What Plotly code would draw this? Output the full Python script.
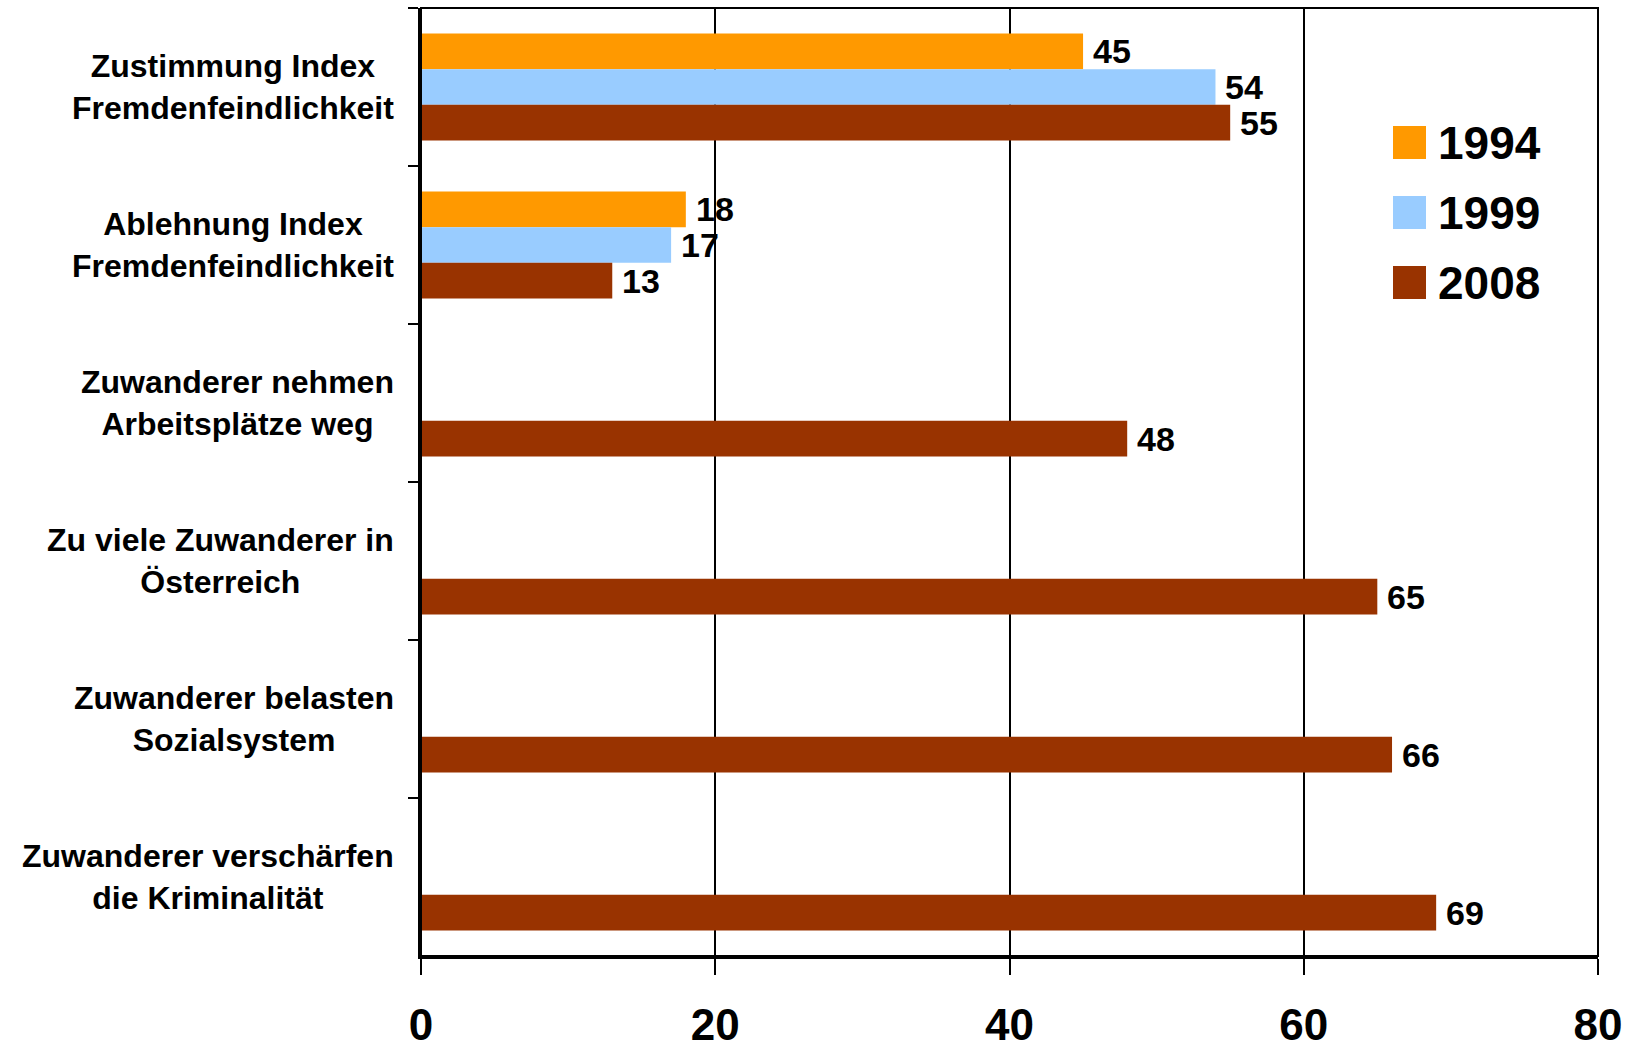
import plotly.graph_objects as go

# Survey items (top to bottom) and agreement shares in percent per survey year
categories = [
    "Zustimmung Index<br>Fremdenfeindlichkeit",
    "Ablehnung Index<br>Fremdenfeindlichkeit",
    "Zuwanderer nehmen<br>Arbeitsplätze weg",
    "Zu viele Zuwanderer in<br>Österreich",
    "Zuwanderer belasten<br>Sozialsystem",
    "Zuwanderer verschärfen<br>die Kriminalität",
]
years = ["1994", "1999", "2008"]
values_1994 = [45, 18, None, None, None, None]
values_1999 = [54, 17, None, None, None, None]
values_2008 = [55, 13, 48, 65, 66, 69]
x_ticks = [0, 20, 40, 60, 80]

series = [values_1994, values_1999, values_2008]
colors = ["#FF9900", "#99CCFF", "#993300"]

FONT = "Liberation Sans, Arial, Helvetica, sans-serif"
W, H = 1636, 1048
M_L, M_R, M_T, M_B = 421, 38, 8, 92
plot_h = H - M_T - M_B
BARGAP = 0.324
band_px = plot_h / len(categories)
bar_px = band_px * (1 - BARGAP) / len(series)

fig = go.Figure()
for name, vals, col in zip(years, series, colors):
    fig.add_trace(go.Bar(
        x=vals, y=categories, orientation="h", name=name,
        marker=dict(color=col, line=dict(width=0)),
        showlegend=False, hoverinfo="x+name",
    ))

annotations = []
# Category labels: right-aligned block, centred lines
for cat in categories:
    annotations.append(dict(
        x=0, xref="paper", y=cat, yref="y", text=cat,
        xanchor="right", yanchor="middle", align="center",
        xshift=-25, showarrow=False,
        font=dict(family=FONT, size=32, color="black", weight="bold"),
    ))

# Value labels at the end of each bar
for i, vals in enumerate(series):
    shift = (1 - i) * bar_px
    for cat, v in zip(categories, vals):
        if v is None:
            continue
        annotations.append(dict(
            x=v, xref="x", y=cat, yref="y", text=str(v),
            xanchor="left", yanchor="middle", xshift=8, yshift=shift,
            showarrow=False,
            font=dict(family=FONT, size=34, color="black", weight="bold"),
        ))

# Legend drawn as coloured squares with year labels
shapes = []
legend_x0, legend_size = 1393, 33
legend_tops = [126, 196, 266]
for name, col, top in zip(years, colors, legend_tops):
    shapes.append(dict(
        type="rect", xref="paper", yref="paper",
        x0=(legend_x0 - M_L) / (W - M_L - M_R),
        x1=(legend_x0 + legend_size - M_L) / (W - M_L - M_R),
        y0=1 - (top + legend_size - M_T) / plot_h,
        y1=1 - (top - M_T) / plot_h,
        fillcolor=col, line=dict(width=0),
    ))
    annotations.append(dict(
        x=(legend_x0 + legend_size + 10 - M_L) / (W - M_L - M_R), xref="paper",
        y=1 - (top + legend_size / 2 - M_T) / plot_h, yref="paper",
        text=name, xanchor="left", yanchor="middle", showarrow=False,
        font=dict(family=FONT, size=46, color="black", weight="bold"),
    ))

# Plot frame (top and right edges)
shapes.append(dict(
    type="rect", xref="paper", yref="paper", x0=0, x1=1, y0=0, y1=1,
    line=dict(color="black", width=2), fillcolor="rgba(0,0,0,0)", layer="above",
))

fig.update_layout(
    width=W, height=H,
    margin=dict(l=M_L, r=M_R, t=M_T, b=M_B, pad=0, autoexpand=False),
    paper_bgcolor="white", plot_bgcolor="white",
    barmode="group", bargap=BARGAP, bargroupgap=0,
    annotations=annotations, shapes=shapes,
    font=dict(family=FONT, color="black"),
)
fig.update_xaxes(
    range=[0, 80], tickvals=x_ticks, ticktext=[str(t) for t in x_ticks],
    showgrid=True, gridcolor="black", gridwidth=2,
    showline=True, linecolor="black", linewidth=3,
    ticks="outside", ticklen=16, tickwidth=2, tickcolor="black",
    ticklabelstandoff=12, automargin=False,
    tickfont=dict(family=FONT, size=44, color="black", weight="bold"),
    zeroline=False, fixedrange=True,
)
fig.update_yaxes(
    type="category", autorange="reversed",
    showticklabels=False, showgrid=False,
    showline=True, linecolor="black", linewidth=3,
    ticks="outside", tickson="boundaries", ticklen=10, tickwidth=2, tickcolor="black",
    zeroline=False, fixedrange=True, automargin=False,
)

fig.write_html("out.html")
